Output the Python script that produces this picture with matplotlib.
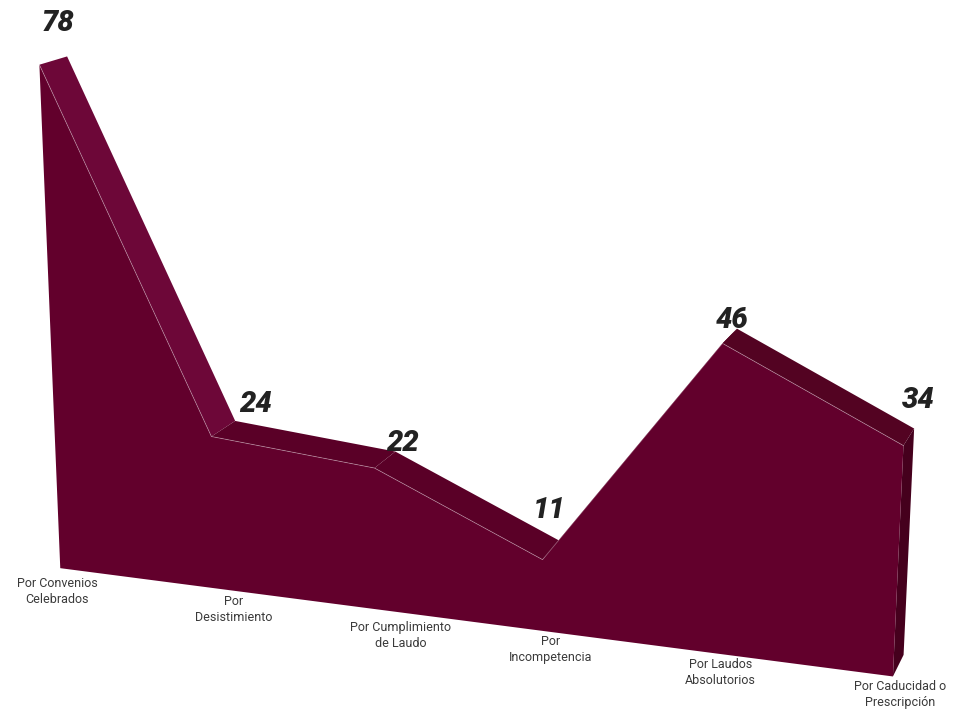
import numpy as np
import matplotlib
matplotlib.use("Agg")
import matplotlib.pyplot as plt
from matplotlib.patches import Polygon

categories = ["Por Convenios\nCelebrados", "Por\nDesistimiento", "Por Cumplimiento\nde Laudo",
              "Por\nIncompetencia", "Por Laudos\nAbsolutorios", "Por Caducidad o\nPrescripción"]
values = [78, 24, 22, 11, 46, 34]

# camera for the extruded area (angles in degrees, sizes in px)
CAM = dict(cx=705.13, cy=258.32, pitch=13.99, yaw=14.85, roll=-1.42,
           step_x=188.77, step_y=7.2773, depth=58.25, dist=2474.3, x0=3.8925, y0=57.88)

# label nudges in px (value labels from the back vertex, category labels from the base)
value_nudge = [(-9, -25), (20, -9), (7, -1), (-11, -23), (-5, -1), (4, -21)]
cat_nudge = [(-3, 23), (18, 21), (25, 26), (9, 19), (6, 19), (7, 18)]

FRONT = "#62002c"
SIDE = "#45001d"
TOP_COLORS = ["#6d0738", "#5a0027", "#5a0027", "#5a0027", "#530322"]


def project(X, Y, Z, c=CAM):
    a, b, g = np.radians([c["pitch"], c["yaw"], c["roll"]])
    x = (X - c["x0"]) * c["step_x"]
    y = (Y - c["y0"]) * c["step_y"]
    z = Z * c["depth"]
    x1 = np.cos(b) * x + np.sin(b) * z
    z1 = -np.sin(b) * x + np.cos(b) * z
    y2 = np.cos(a) * y + np.sin(a) * z1
    z2 = -np.sin(a) * y + np.cos(a) * z1
    x3 = np.cos(g) * x1 - np.sin(g) * y2
    y3 = np.sin(g) * x1 + np.cos(g) * y2
    k = c["dist"] / (c["dist"] + z2)
    return c["cx"] + x3 * k, c["cy"] - y3 * k


fig = plt.figure(figsize=(9.69, 7.10), dpi=100)
ax = fig.add_axes([0, 0, 1, 1])
ax.set_xlim(0, 969)
ax.set_ylim(710, 0)
ax.axis("off")

xs = np.arange(len(values), dtype=float)
vals = np.array(values, float)
zero = np.zeros_like(vals)
fu, fv = project(xs, vals, 0)    # front top edge
bu, bv = project(xs, vals, 1)    # back top edge
gu, gv = project(xs, zero, 0)    # front base
hu, hv = project(xs, zero, 1)    # back base

# top faces of each segment, then the right side, then the front face
for i in range(len(values) - 1):
    quad = [(fu[i], fv[i]), (fu[i + 1], fv[i + 1]), (bu[i + 1], bv[i + 1]), (bu[i], bv[i])]
    ax.add_patch(Polygon(quad, closed=True, fc=TOP_COLORS[i], ec="none"))
side = [(fu[-1], fv[-1]), (bu[-1], bv[-1]), (hu[-1], hv[-1]), (gu[-1], gv[-1])]
ax.add_patch(Polygon(side, closed=True, fc=SIDE, ec="none"))
front = [(gu[0], gv[0])] + list(zip(fu, fv)) + [(gu[-1], gv[-1])]
ax.add_patch(Polygon(front, closed=True, fc=FRONT, ec="none"))
ax.plot(fu, fv, color="white", alpha=0.35, lw=0.6)

for i, v in enumerate(values):
    dx, dy = value_nudge[i]
    ax.text(bu[i] + dx, bv[i] + dy, str(v), ha="center", va="baseline", fontsize=21,
            family=["Roboto", "Liberation Sans"], weight="black", style="italic", color="#222222")

for i, c in enumerate(categories):
    dx, dy = cat_nudge[i]
    ax.text(gu[i] + dx, gv[i] + dy, c, ha="center", va="center", fontsize=9, linespacing=1.3,
            family=["Roboto", "DejaVu Sans"], color="#3a3a3a")

fig.savefig("out.png", dpi=100)
